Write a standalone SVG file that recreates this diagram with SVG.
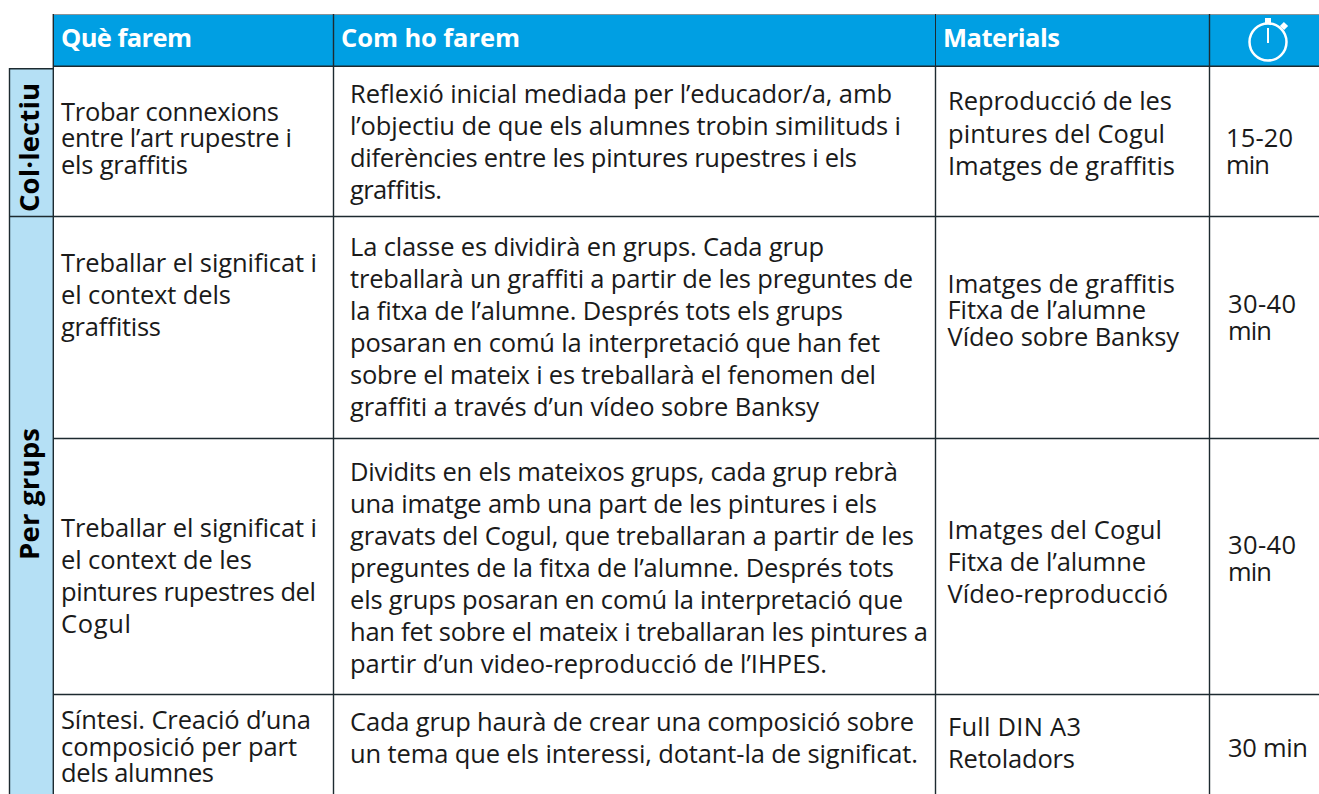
<svg xmlns="http://www.w3.org/2000/svg" width="1319" height="794" viewBox="0 0 1319 794">
<style>
text{font-family:"Open Sans","Noto Sans",sans-serif;font-size:25.500px;fill:#1a1a1a}
.h{font-weight:700;fill:#fff;font-size:25.500px}
.s{font-weight:700;font-size:27.500px;fill:#000}
.l{stroke:#1d2a30;stroke-width:1.400;fill:none}
</style>
<rect x="53" y="15" width="1266" height="51" fill="#009fe3"/>
<rect x="10" y="69" width="43" height="147" fill="#b5e0f5"/>
<rect x="10" y="217" width="43" height="577" fill="#b5e0f5"/>
<g id="grid">
<path d="M53 14.500H1319" stroke="#8a9499" stroke-width="1.200"/>
<path class="l" d="M53 66.300H1319M10 68.800H53M10 216.500H1319M53 438.500H1319M53 694.500H1319"/>
<path class="l" d="M53.300 14V794M333.500 14V794M935.500 66V794M1209.500 14V794M9.500 68V794"/>
<path d="M935.500 14V66" stroke="#1d2a30" stroke-width="1"/>
</g>
<g id="header">
<text class="h" x="61" y="47" textLength="131">Què farem</text>
<text class="h" x="341" y="47" textLength="179">Com ho farem</text>
<text class="h" x="943" y="47" textLength="117">Materials</text>
<g id="timer" fill="none" stroke="#fff"><circle cx="1268" cy="42" r="18.500" stroke-width="2.500"/><path d="M1268 28V43" stroke-width="2"/><path d="M1268 18V24M1282 28L1286 24" stroke-width="6"/></g>
</g>
<g id="side">
<text class="s" transform="translate(38.500 212) rotate(-90)" textLength="129">Col·lectiu</text>
<text class="s" transform="translate(38.500 560) rotate(-90)" textLength="132">Per grups</text>
</g>
<g id="col1">
<text x="61" y="121" textLength="218">Trobar connexions</text><text x="61" y="147" textLength="231">entre l’art rupestre i</text><text x="61" y="174" textLength="127">els graffitis</text>
<text x="61" y="272" textLength="256">Treballar el significat i</text><text x="61" y="304" textLength="170">el context dels</text><text x="61" y="336" textLength="100">graffitiss</text>
<text x="61" y="537" textLength="256">Treballar el significat i</text><text x="61" y="569" textLength="191">el context de les</text><text x="61" y="601" textLength="255">pintures rupestres del</text><text x="61" y="633" textLength="70">Cogul</text>
<text x="61" y="729" textLength="250">Síntesi. Creació d’una</text><text x="61" y="756" textLength="236">composició per part</text><text x="61" y="782" textLength="153">dels alumnes</text>
</g>
<g id="col2">
<text x="350" y="103" textLength="542">Reflexió inicial mediada per l’educador/a, amb</text><text x="350" y="135" textLength="551">l’objectiu de que els alumnes trobin similituds i</text><text x="350" y="167" textLength="507">diferències entre les pintures rupestres i els</text><text x="350" y="199" textLength="92">graffitis.</text>
<text x="350" y="256" textLength="474">La classe es dividirà en grups. Cada grup</text><text x="350" y="288" textLength="563">treballarà un graffiti a partir de les preguntes de</text><text x="350" y="320" textLength="493">la fitxa de l’alumne. Després tots els grups</text><text x="350" y="352" textLength="530">posaran en comú la interpretació que han fet</text><text x="350" y="384" textLength="526">sobre el mateix i es treballarà el fenomen del</text><text x="350" y="416" textLength="469">graffiti a través d’un vídeo sobre Banksy</text>
<text x="350" y="481" textLength="548">Dividits en els mateixos grups, cada grup rebrà</text><text x="350" y="513" textLength="527">una imatge amb una part de les pintures i els</text><text x="350" y="545" textLength="564">gravats del Cogul, que treballaran a partir de les</text><text x="350" y="577" textLength="544">preguntes de la fitxa de l’alumne. Després tots</text><text x="350" y="609" textLength="553">els grups posaran en comú la interpretació que</text><text x="350" y="641" textLength="578">han fet sobre el mateix i treballaran les pintures a</text><text x="350" y="673" textLength="477">partir d’un video-reproducció de l’IHPES.</text>
<text x="350" y="731" textLength="564">Cada grup haurà de crear una composició sobre</text><text x="350" y="763" textLength="568">un tema que els interessi, dotant-la de significat.</text>
</g>
<g id="col3">
<text x="948" y="110" textLength="224">Reproducció de les</text><text x="948" y="143" textLength="217">pintures del Cogul</text><text x="948" y="175" textLength="227">Imatges de graffitis</text>
<text x="947.500" y="293" textLength="227.500">Imatges de graffitis</text><text x="947.500" y="319" textLength="198.500">Fitxa de l’alumne</text><text x="947.500" y="346" textLength="231.500">Vídeo sobre Banksy</text>
<text x="947.500" y="539" textLength="214.500">Imatges del Cogul</text><text x="947.500" y="571" textLength="198.500">Fitxa de l’alumne</text><text x="947.500" y="603" textLength="220.500">Vídeo-reproducció</text>
<text x="948" y="736" textLength="133">Full DIN A3</text><text x="948" y="768" textLength="127">Retoladors</text>
</g>
<g id="col4">
<text x="1226" y="147" textLength="67">15-20</text><text x="1226" y="174" textLength="44">min</text>
<text x="1228" y="313" textLength="68">30-40</text><text x="1228" y="340" textLength="44">min</text>
<text x="1228" y="554" textLength="68">30-40</text><text x="1228" y="581" textLength="44">min</text>
<text x="1228" y="757" textLength="80">30 min</text>
</g>
</svg>
